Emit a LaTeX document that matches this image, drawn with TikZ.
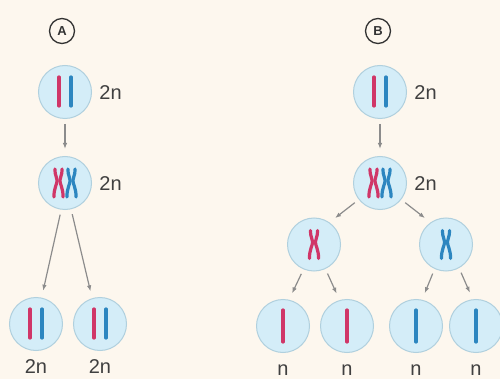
\documentclass[tikz,border=0pt]{standalone}
\usepackage{fontspec}
\setmainfont{Liberation Sans}
\usetikzlibrary{positioning,arrows.meta}

\definecolor{bg}{RGB}{253,247,238}
\definecolor{cellfill}{RGB}{212,237,248}
\definecolor{cellline}{RGB}{176,208,222}
\definecolor{chred}{RGB}{208,54,104}
\definecolor{chblue}{RGB}{44,134,192}
\definecolor{arrgray}{RGB}{140,140,140}
\definecolor{txt}{RGB}{64,64,64}

\tikzset{
  rch/.style={draw=chred, line width=3.2pt, line cap=round, line join=round},
  bch/.style={draw=chblue, line width=3.2pt, line cap=round, line join=round},
  bars/.pic={\draw[rch] (-6,-14) -- (-6,15); \draw[bch] (6,-14) -- (6,15);},
  bar/.pic={\draw[#1] (0,-16) -- (0,16);},
  xch/.pic={\draw[#1] (-3.6,14) .. controls (-3.6,7) and (-1.4,6) .. (-1.4,2.5)
              .. controls (-1.4,-1) and (-4.6,-5) .. (-4.6,-14);
            \draw[#1] (3.6,14) .. controls (3.6,7) and (1.4,6) .. (1.4,2.5)
              .. controls (1.4,-1) and (4.6,-5) .. (4.6,-14);}
}

\begin{document}
\begin{tikzpicture}[x=1pt, y=1pt, node distance=37pt, thick,
  cell/.style = {draw=cellline, fill=cellfill, circle, minimum size=53pt, inner sep=0pt, line width=1pt},
  tag/.style = {draw=black!80, circle, minimum size=25pt, inner sep=0pt, line width=1.3pt,
                font=\fontsize{13}{13}\selectfont\bfseries, text=black!80},
  lbl/.style = {font=\fontsize{20}{20}\selectfont, text=txt, inner sep=0pt, text height=14.3pt, text depth=0pt},
  arr/.style = {draw=arrgray, line width=1.2pt, -{Latex[length=6pt,width=4.5pt]}, shorten <=5pt, shorten >=7pt}]
\fill[bg] (0,0) rectangle (500,-379);
\useasboundingbox (0,0) rectangle (500,-379);

% A
\node[tag] (A) at (62,-31) {A};
\node[cell] (a1) at (65,-92) {};
\node[cell] (a2) [below=of a1] {};
\node[cell] (a3) at (36,-324) {};
\node[cell] (a4) at (100,-324) {};
\pic at (a1) {bars};
\pic at ([xshift=-6.5pt]a2.center) {xch=rch};
\pic at ([xshift=6.5pt]a2.center) {xch=bch};
\pic at (a3) {bars};
\pic at (a4) {bars};
\node[lbl] (la1) [right=7pt of a1] {2n};
\node[lbl] (la2) [right=7pt of a2] {2n};
\node[lbl] (la3) [below=7.5pt of a3] {2n};
\node[lbl] (la4) [below=7.5pt of a4] {2n};
\draw[arr] (a1) -- (a2);
\draw[arr] (a2.262) -- (a3.78);
\draw[arr] (a2.283) -- (a4.107);

% B
\node[tag] (B) at (378,-31) {B};
\node[cell] (b1) at (380,-92) {};
\node[cell] (b2) [below=of b1] {};
\node[cell] (c1) at (314,-244.5) {};
\node[cell] (c2) at (446,-244.5) {};
\node[cell] (g1) at (283,-326) {};
\node[cell] (g2) at (347,-326) {};
\node[cell] (g3) at (416,-326) {};
\node[cell] (g4) at (476,-326) {};
\pic at (b1) {bars};
\pic at ([xshift=-6.5pt]b2.center) {xch=rch};
\pic at ([xshift=6.5pt]b2.center) {xch=bch};
\pic at (c1) {xch=rch};
\pic at (c2) {xch=bch};
\pic at (g1) {bar=rch};
\pic at (g2) {bar=rch};
\pic at (g3) {bar=bch};
\pic at (g4) {bar=bch};
\node[lbl] (lb1) [right=7pt of b1] {2n};
\node[lbl] (lb2) [right=7pt of b2] {2n};
\node[lbl] (lg1) [below=7.5pt of g1] {n};
\node[lbl] (lg2) [below=7.5pt of g2] {n};
\node[lbl] (lg3) [below=7.5pt of g3] {n};
\node[lbl] (lg4) [below=7.5pt of g4] {n};
\draw[arr] (b1) -- (b2);
\draw[arr] (b2.218) -- (c1.55);
\draw[arr] (b2.322) -- (c2.125);
\draw[arr] (c1.247) -- (g1.77);
\draw[arr] (c1.295) -- (g2.106);
\draw[arr] (c2.245) -- (g3.77);
\draw[arr] (c2.299) -- (g4.97);
\end{tikzpicture}
\end{document}
